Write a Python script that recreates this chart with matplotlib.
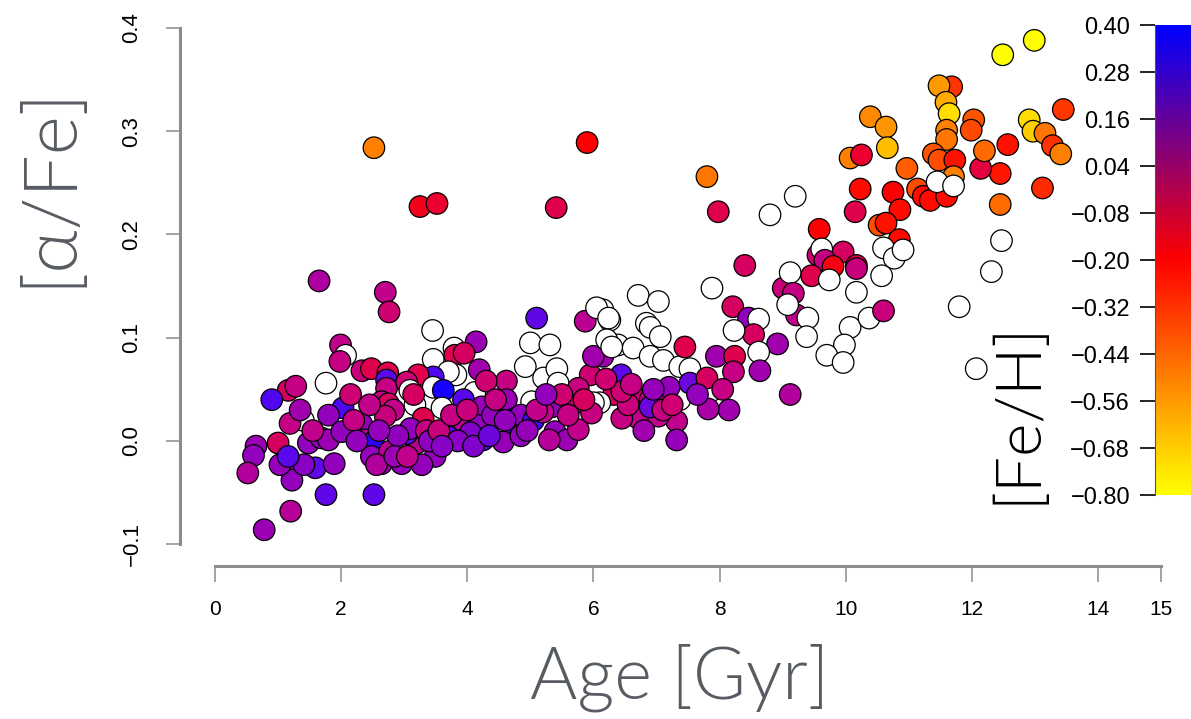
import numpy as np
import matplotlib
matplotlib.use("Agg")
import matplotlib.pyplot as plt
from matplotlib.colors import LinearSegmentedColormap, Normalize

nan = np.nan

# stellar ages [Gyr], [alpha/Fe] and [Fe/H] (nan = no metallicity)
age = [
    2.52, 3.25, 3.52, 5.90, 5.41, 1.65, 2.70, 2.76, 5.10, 7.80, 7.98, 8.40, 9.20, 8.80, 9.01, 9.12,
    12.49, 12.99, 11.68, 11.48, 11.59, 11.64, 11.60, 11.60, 10.39, 10.64, 10.66, 10.07, 10.25,
    12.03, 11.99, 13.45, 12.91, 12.97, 13.16, 13.28, 13.41, 12.57, 12.45, 12.14, 12.20, 11.39,
    11.48, 11.73, 10.97, 10.23, 10.15, 10.75, 10.86, 9.58, 10.53, 10.64, 11.14, 11.23, 11.34,
    11.60, 11.71, 11.45, 11.71, 12.45, 13.12, 12.47, 10.85, 10.60, 10.77, 10.91, 9.96, 10.17,
    9.56, 9.62, 12.31, 9.67, 9.80, 9.46, 9.74, 10.17, 10.17, 10.57, 9.12, 9.17, 9.22, 9.40,
    9.38, 10.07, 10.37, 10.60, 9.98, 9.70, 9.96, 11.80, 12.07,
    7.88, 9.08, 8.21, 8.46, 8.62, 8.54, 8.23, 8.92, 7.95, 8.24, 8.62, 8.22, 8.64, 6.71, 7.03,
    6.84, 6.90, 7.06, 6.26, 6.15, 6.39, 6.63, 6.90, 7.11, 7.37, 7.53, 7.45, 7.88, 7.37, 7.53,
    6.44, 7.80, 8.15, 7.82, 7.32, 7.32, 6.71, 6.45, 7.03, 6.63, 6.32, 6.90, 7.13, 6.90, 6.10, 6.15,
    3.45, 3.79, 3.80, 4.14, 3.46, 4.19, 3.82, 3.70, 3.46, 3.22, 3.46, 3.62, 4.12, 3.60, 3.17,
    3.30, 3.94, 4.23, 3.70, 3.96, 4.17, 4.53, 3.70, 4.25, 4.57, 3.49, 3.28, 4.62, 4.62, 4.76,
    5.02, 4.92, 5.00, 5.31, 5.21, 5.42, 5.44, 5.34, 5.39, 5.58, 5.66, 5.76, 6.00, 5.97, 5.95,
    5.76, 6.00, 5.87, 6.05, 6.24, 6.21, 6.29,
    1.99, 2.07, 1.98, 2.33, 2.48, 2.74, 2.72, 1.76, 1.16, 1.28, 0.90, 2.72, 3.04, 3.09, 2.64,
    2.75, 2.83, 1.40, 1.19, 2.03, 1.80, 1.00, 0.65, 0.61, 0.52, 1.48, 1.68, 1.80, 2.01, 1.19,
    1.59, 1.22, 1.41, 1.89, 1.76, 2.52, 1.20, 0.78, 1.03, 1.16, 2.33, 2.38, 2.51, 2.48, 2.64,
    2.96, 2.77, 3.20, 3.04, 2.56, 2.70,
    4.70, 4.85, 5.05, 5.20, 4.40, 4.05, 3.85, 3.10, 3.35, 2.90, 5.50, 6.55, 6.80, 7.10, 7.20,
    4.30, 3.95, 4.85, 5.30, 6.45,
    1.35, 1.55, 2.20, 2.25, 2.60, 2.85, 3.05, 3.40, 3.55, 3.60, 3.75, 4.00, 4.10, 4.35, 4.45,
    4.60, 4.95, 5.10, 5.25, 5.60, 5.85, 6.20, 6.60, 6.95, 7.25, 7.65, 8.05, 3.15, 2.45, 2.15,
]
alpha_fe = [
    0.284, 0.227, 0.230, 0.289, 0.226, 0.155, 0.144, 0.125, 0.119, 0.256, 0.222, 0.170, 0.237, 0.219, 0.148, 0.045,
    0.374, 0.388, 0.343, 0.344, 0.328, 0.317, 0.301, 0.292, 0.314, 0.304, 0.284, 0.274, 0.277,
    0.311, 0.301, 0.321, 0.311, 0.300, 0.298, 0.286, 0.278, 0.287, 0.259, 0.264, 0.281, 0.278,
    0.272, 0.272, 0.264, 0.244, 0.222, 0.241, 0.224, 0.205, 0.209, 0.211, 0.244, 0.237, 0.233,
    0.237, 0.256, 0.251, 0.247, 0.229, 0.245, 0.194, 0.195, 0.187, 0.177, 0.185, 0.183, 0.170,
    0.180, 0.186, 0.164, 0.175, 0.169, 0.160, 0.156, 0.167, 0.144, 0.160, 0.163, 0.143, 0.122, 0.119,
    0.101, 0.110, 0.119, 0.126, 0.093, 0.083, 0.076, 0.130, 0.070,
    0.148, 0.132, 0.130, 0.119, 0.118, 0.103, 0.107, 0.094, 0.082, 0.082, 0.086, 0.067, 0.068, 0.141, 0.135,
    0.114, 0.110, 0.101, 0.117, 0.127, 0.093, 0.090, 0.082, 0.078, 0.072, 0.070, 0.091, 0.049, 0.040, 0.056,
    0.064, 0.061, 0.030, 0.031, 0.019, 0.001, 0.022, 0.022, 0.024, 0.043, 0.045, 0.040, 0.043, 0.033, 0.037, 0.082,
    0.107, 0.090, 0.083, 0.096, 0.079, 0.069, 0.064, 0.067, 0.062, 0.064, 0.052, 0.049, 0.047, 0.032, 0.035,
    0.022, 0.040, 0.033, 0.012, 0.014, 0.015, 0.015, 0.004, 0.001, -0.001, -0.015, -0.023, 0.058, 0.040, 0.022,
    0.038, 0.072, 0.095, 0.093, 0.061, 0.070, 0.056, 0.033, 0.009, 0.001, 0.035, 0.011, 0.037, 0.027, 0.064,
    0.051, 0.082, 0.116, 0.129, 0.119, 0.098, 0.091,
    0.093, 0.083, 0.077, 0.068, 0.070, 0.066, 0.059, 0.056, 0.049, 0.053, 0.040, 0.051, 0.057, 0.049, 0.038,
    0.036, 0.030, 0.020, 0.017, 0.032, 0.025, -0.002, -0.005, -0.014, -0.031, -0.002, 0.003, 0.001, 0.009, -0.023,
    -0.026, -0.038, -0.023, -0.022, -0.052, -0.052, -0.068, -0.086, -0.023, -0.015, 0.016, 0.001, -0.001, -0.015, -0.022,
    -0.022, -0.010, -0.002, 0.007, -0.023, 0.024,
    0.018, 0.025, 0.020, 0.028, 0.025, 0.008, 0.000, 0.012, 0.010, 0.005, 0.045, 0.035, 0.010, 0.030, 0.052,
    0.058, 0.085, 0.005, 0.001, 0.048,
    0.030, 0.010, 0.020, 0.000, 0.010, -0.015, -0.015, 0.000, 0.010, -0.005, 0.025, 0.030, -0.005, 0.005, 0.040,
    0.020, 0.010, 0.030, 0.045, 0.025, 0.040, 0.060, 0.055, 0.050, 0.035, 0.045, 0.050, 0.045, 0.035, 0.045,
]
fe_h = [
    -0.50, -0.17, -0.15, -0.20, -0.12, -0.01, -0.05, -0.08, 0.18, -0.48, -0.12, -0.10, nan, nan, -0.07, -0.02,
    -0.80, -0.80, -0.32, -0.56, -0.60, -0.72, -0.50, -0.48, -0.52, -0.55, -0.65, -0.50, -0.15,
    -0.40, -0.37, -0.33, -0.72, -0.68, -0.48, -0.32, -0.50, -0.24, -0.25, -0.13, -0.45, -0.40,
    -0.38, -0.24, -0.42, -0.22, -0.12, -0.20, -0.22, -0.20, -0.38, -0.24, -0.38, -0.22, -0.22,
    -0.22, -0.50, nan, nan, -0.45, -0.30, nan, -0.22, nan, nan, nan, -0.10, -0.12,
    -0.08, nan, nan, -0.06, -0.18, -0.12, nan, -0.07, nan, nan, nan, -0.06, -0.05, nan,
    nan, nan, nan, -0.07, nan, nan, nan, nan, nan,
    nan, nan, -0.10, 0.05, nan, -0.10, nan, 0.02, 0.02, -0.12, nan, -0.06, 0.02, nan, nan,
    nan, nan, nan, nan, nan, nan, nan, nan, nan, nan, nan, -0.12, nan, nan, 0.15,
    0.18, -0.10, 0.02, 0.00, -0.05, 0.04, -0.05, -0.06, -0.05, -0.08, -0.10, -0.06, -0.05, 0.15, nan, 0.02,
    nan, nan, -0.12, 0.03, nan, 0.02, nan, nan, 0.22, -0.12, nan, 0.35, nan, nan, nan,
    -0.12, 0.20, 0.04, 0.03, -0.04, 0.05, nan, 0.20, 0.20, 0.04, 0.05, 0.05, -0.06, 0.03, 0.15,
    nan, nan, nan, nan, nan, nan, nan, 0.04, 0.05, 0.03, -0.07, -0.05, nan, -0.06, -0.08,
    -0.07, 0.02, -0.04, nan, nan, nan, nan,
    -0.05, nan, -0.06, -0.07, -0.12, -0.12, 0.20, nan, -0.10, -0.06, 0.22, -0.06, -0.08, nan, -0.06,
    -0.10, -0.05, nan, -0.06, 0.22, 0.05, -0.10, 0.03, 0.05, -0.02, 0.05, 0.04, 0.03, 0.05, 0.05,
    0.18, 0.05, 0.08, 0.05, 0.18, 0.18, -0.03, 0.03, 0.04, 0.20, 0.04, -0.04, 0.30, 0.05, 0.03,
    0.05, -0.04, -0.04, 0.18, -0.02, -0.07,
    0.22, 0.05, 0.25, -0.05, 0.05, 0.10, 0.08, 0.05, -0.06, 0.06, -0.08, -0.07, 0.02, -0.06, 0.05,
    -0.08, -0.10, 0.05, -0.03, -0.08,
    0.02, -0.05, -0.06, 0.05, 0.05, 0.03, -0.05, 0.06, -0.07, 0.08, -0.06, -0.07, 0.10, 0.15, -0.06,
    0.05, 0.04, -0.05, 0.05, -0.06, -0.10, -0.08, -0.06, 0.04, -0.08, 0.05, -0.06, -0.10, -0.05, -0.08,
]

x_ticks = [0, 2, 4, 6, 8, 10, 12, 14, 15]
y_ticks = [-0.1, 0.0, 0.1, 0.2, 0.3, 0.4]
cb_ticks = [0.40, 0.28, 0.16, 0.04, -0.08, -0.20, -0.32, -0.44, -0.56, -0.68, -0.80]

age = np.array(age)
alpha_fe = np.array(alpha_fe)
fe_h = np.array(fe_h)

norm = Normalize(-0.80, 0.40)
# point palette: blue -> magenta -> red -> yellow (perceptual-style ramp)
pt_nodes = [(-0.80, "#ffff00"), (-0.50, "#ff8000"), (-0.20, "#ff0000"), (-0.12, "#e0004c"),
            (-0.05, "#c0008e"), (0.04, "#9800b8"), (0.20, "#5a08ec"), (0.30, "#3000ff"),
            (0.40, "#0000ff")]
pt_cmap = LinearSegmentedColormap.from_list(
    "pts", [(float(norm(v)), c) for v, c in pt_nodes])
# colour bar drawn as a plain RGB ramp
cb_cmap = LinearSegmentedColormap.from_list("byr", ["#ffff00", "#ff0000", "#0000ff"])

colors = pt_cmap(norm(np.nan_to_num(fe_h)))
colors[np.isnan(fe_h)] = (1, 1, 1, 1)

W, H = 1191, 719
fig = plt.figure(figsize=(W / 100, H / 100), dpi=100)
grey = "#8c8c8c"
lab_col = "#575c63"
tick_font = "Liberation Sans"

def minus(s):
    return s.replace("-", "\u2212")

# main panel, axes box spans the R-style detached axis lines
ax = fig.add_axes([180 / W, 1 - 566 / H, (1165 - 180) / W, (566 - 20) / H])
ax.set_xlim(-0.555, 15.063)
ax.set_ylim(-0.1211, 0.4077)
ax.scatter(age, alpha_fe, s=240, c=colors, edgecolors="black", linewidths=0.9, zorder=3)

for side in ["top", "right"]:
    ax.spines[side].set_visible(False)
ax.spines["bottom"].set_bounds(0, 15)
ax.spines["left"].set_bounds(-0.1, 0.4)
for side in ["bottom", "left"]:
    ax.spines[side].set_color(grey)
    ax.spines[side].set_linewidth(2.2)

ax.set_xticks(x_ticks)
ax.set_xticklabels([str(t) for t in x_ticks], fontname=tick_font, fontsize=15)
ax.set_yticks(y_ticks)
ax.set_yticklabels([minus("%.1f" % t) for t in y_ticks], fontname=tick_font, fontsize=16,
                   rotation=90, va="center")
ax.tick_params(axis="x", length=11.5, width=1.1, color=grey, pad=13)
ax.tick_params(axis="y", length=10, width=1.1, color=grey, pad=17)

fig.text(680 / W, 1 - 678 / H, "Age [Gyr]", fontsize=52, color=lab_col,
         family="Lato", fontweight=300, ha="center", va="center")
fig.text(50 / W, 1 - 186 / H, "[\u03b1/Fe]", fontsize=54, color=lab_col,
         family="Lato", fontweight=300, rotation=90, ha="center", va="center")

# colour bar for [Fe/H]
cax = fig.add_axes([1155 / W, 1 - 495 / H, 36 / W, 470 / H])
grad = np.linspace(-0.80, 0.40, 300).reshape(-1, 1)
cax.imshow(grad, aspect="auto", cmap=cb_cmap, norm=norm, origin="lower",
           extent=[0, 1, -0.80, 0.40])
cax.set_xlim(0, 1)
cax.set_ylim(-0.80, 0.40)
cax.set_xticks([])
cax.set_yticks(cb_ticks)
cax.set_yticklabels([minus("%.2f" % t) for t in cb_ticks], fontname=tick_font, fontsize=17)
cax.tick_params(axis="y", length=11, width=1.2, color="black", pad=7)
for side in ["top", "right", "bottom"]:
    cax.spines[side].set_visible(False)
cax.spines["left"].set_color("#555555")
cax.spines["left"].set_linewidth(0.8)

fig.text(1018 / W, 1 - 412 / H, "[Fe/H]", fontsize=46, color="black",
         family="Lato", fontweight=300, rotation=90, ha="center", va="center")

fig.savefig("out.png", dpi=100)
